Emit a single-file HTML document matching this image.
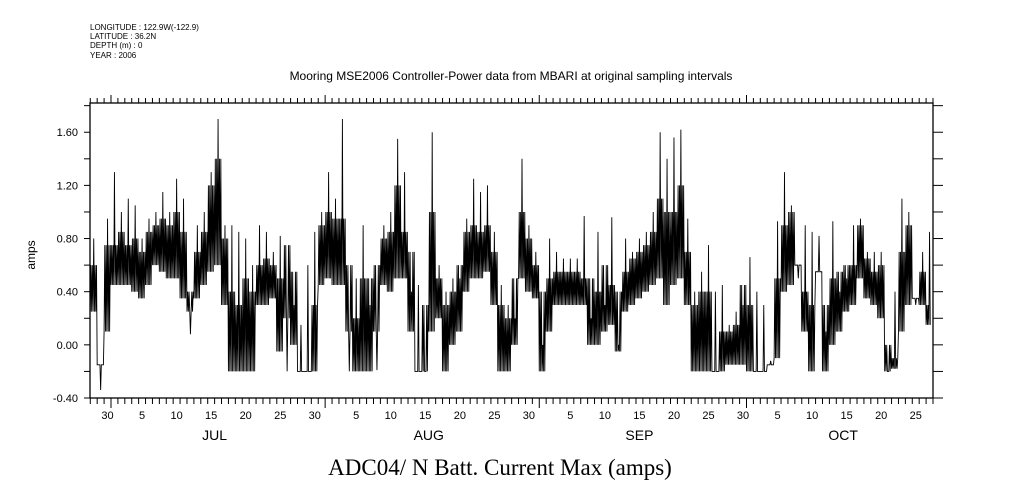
<!DOCTYPE html>
<html><head><meta charset="utf-8"><style>
html,body{margin:0;padding:0;background:#fff;}
svg{display:block;font-family:"Liberation Sans",sans-serif;}
</style></head><body>
<svg id="chart" width="1009" height="504" viewBox="0 0 1009 504" xmlns="http://www.w3.org/2000/svg">
<g font-size="8" fill="#000">
<text x="90" y="30">LONGITUDE : 122.9W(-122.9)</text>
<text x="90" y="39">LATITUDE : 36.2N</text>
<text x="90" y="48">DEPTH (m) : 0</text>
<text x="90" y="58">YEAR : 2006</text>
</g>
<text x="511" y="80" text-anchor="middle" font-size="12">Mooring MSE2006 Controller-Power data from MBARI at original sampling intervals</text>
<text transform="translate(35,255) rotate(-90)" text-anchor="middle" font-size="12">amps</text>
<text x="500" y="475" text-anchor="middle" font-size="23" font-family="Liberation Serif, serif">ADC04/ N Batt. Current Max (amps)</text>
<g id="axes"></g>
<g id="series"></g>
</svg>
<script>
const dayStart = -3;
const dayLow = [0.25,-0.15,0.1,0.45,0.45,0.45,0.4,0.35,0.45,0.6,
0.55,0.5,0.5,0.35,0.25,0.35,0.45,0.55,0.6,0.3,
-0.2,-0.2,-0.2,-0.2,0.3,0.3,0.35,-0.05,0.2,0.0,
-0.2,-0.2,-0.2,0.45,0.5,0.45,0.45,0.1,-0.2,-0.2,
-0.2,0.1,0.45,0.4,0.5,0.5,0.1,-0.2,-0.2,0.1,
0.2,-0.2,0.0,0.1,0.4,0.5,0.5,0.55,0.3,-0.2,
-0.2,0.0,0.5,0.4,0.35,-0.2,0.1,0.3,0.3,0.3,
0.3,0.3,0.0,0.0,0.1,0.15,-0.05,0.25,0.3,0.35,
0.4,0.45,0.5,0.3,0.45,0.5,0.3,-0.2,-0.2,-0.2,
-0.2,-0.2,-0.15,-0.15,-0.15,-0.2,-0.2,-0.2,-0.15,-0.1,
0.4,0.45,0.6,0.1,-0.2,0.55,-0.2,0.0,0.1,0.25,
0.3,0.5,0.35,0.3,0.2,-0.2,-0.18,0.1,0.3,0.35,
0.3,0.15];
const dayHigh = [0.6,-0.15,0.75,0.75,0.85,0.75,0.8,0.7,0.85,0.9,
0.95,0.9,1.0,0.85,0.4,0.7,0.85,1.2,1.4,0.8,
0.4,0.3,0.5,0.4,0.6,0.65,0.6,0.5,0.75,0.55,
-0.2,-0.2,0.3,0.9,1.0,0.95,0.95,0.6,0.2,0.5,
0.5,0.6,0.8,0.85,1.2,0.85,0.7,-0.2,0.3,1.0,
0.5,0.3,0.4,0.6,0.85,0.9,0.85,0.9,0.7,0.3,
0.2,0.5,1.0,0.8,0.6,0.4,0.5,0.55,0.55,0.55,
0.55,0.5,0.5,0.4,0.6,0.45,0.4,0.55,0.65,0.7,
0.75,0.85,1.1,1.0,1.0,1.2,0.7,0.3,0.4,0.4,
-0.2,0.1,0.1,0.15,0.45,0.3,-0.2,-0.2,-0.15,0.5,
0.9,1.0,0.6,0.4,0.3,0.55,0.3,0.5,0.55,0.6,
0.6,0.9,0.65,0.55,0.6,0.0,-0.1,0.7,0.9,0.35,
0.55,0.3];
const dayPeak = [0.8,-0.34,0.95,1.3,1.0,1.1,1.05,0.8,0.95,1.0,
1.15,1.0,1.25,1.1,0.08,0.9,1.0,1.3,1.7,0.9,
0.9,0.85,0.8,0.6,0.9,0.85,0.7,0.82,-0.2,0.3,
0.15,0.6,0.85,1.0,1.3,1.1,1.7,-0.2,0.5,0.9,
0.3,-0.19,0.9,1.0,1.55,1.3,0.4,0.45,-0.2,1.6,
0.6,0.4,0.5,0.5,0.95,1.25,1.15,1.2,0.85,0.45,
0.3,0.2,1.4,0.9,0.7,0.0,0.8,0.7,0.65,0.65,
0.65,0.97,0.2,0.85,0.3,0.96,0.0,0.8,0.7,0.8,
0.85,1.0,1.6,1.4,1.56,1.62,0.95,0.4,0.55,0.75,
0.4,0.45,0.15,0.25,0.3,0.66,0.4,0.3,-0.12,0.93,
1.3,1.05,0.5,0.9,0.85,0.82,0.1,0.93,0.4,0.5,
0.9,0.95,0.7,0.7,0.7,-0.2,0.4,1.1,1.0,0.3,
0.7,0.85];
const yTickValues = [-0.4,-0.2,0,0.2,0.4,0.6,0.8,1.0,1.2,1.4,1.6,1.8];
const yTickLabels = ["-0.40","0.00","0.40","0.80","1.20","1.60"];
const dayLabelDays = [-1,4,9,14,19,24,29,35,40,45,50,55,60,66,71,76,81,86,91,96,101,106,111,116];
const dayLabelText = ["30","5","10","15","20","25","30","5","10","15","20","25","30","5","10","15","20","25","30","5","10","15","20","25"];
const monthStarts = [0,31,62,92];
const monthNames = ["JUL","AUG","SEP","OCT"];
const monthLabelDays = [15,46,76.5,106];

const NS="http://www.w3.org/2000/svg";
const L=90,R=933,T=103,B=398;
const D0=-3.04, D1=119.0;
const VMIN=-0.4, VMAX=1.82;
function X(d){return L+(d-D0)/(D1-D0)*(R-L);}
function Y(v){return B-(v-VMIN)/(VMAX-VMIN)*(B-T);}
function mk(tag,attrs,parent){const e=document.createElementNS(NS,tag);for(const k in attrs)e.setAttribute(k,attrs[k]);parent.appendChild(e);return e;}
const ax=document.getElementById('axes');
let e;
e=mk('rect',{x:L,y:T,width:R-L,height:B-T,fill:'none',stroke:'#000','stroke-width':1.3},ax);


yTickValues.forEach(v=>{
  const y=Y(v);
  if(y<T-0.5) return;
  let t=mk('line',{x1:L-6,x2:L,y1:y,y2:y,stroke:'#000'},ax);
  
  
  let t2=mk('line',{x1:R,x2:R+10,y1:y,y2:y,stroke:'#000'},ax);
  
  
});
yTickLabels.forEach(s=>{
  const v=parseFloat(s);
  let t=mk('text',{x:78,y:Y(v)+4,'text-anchor':'end','font-size':11},ax);
  t.textContent=s;
  
  
});
for(let d=Math.ceil(D0);d<=Math.floor(D1);d++){
  const x=X(d);
  const major=monthStarts.includes(d);
  let t=mk('line',{x1:x,x2:x,y1:B,y2:B+(major?10:6),stroke:'#000'},ax);
  
  
  let t2=mk('line',{x1:x,x2:x,y1:T,y2:T-(major?8:5),stroke:'#000'},ax);
  
  
}
dayLabelDays.forEach((d,i)=>{
  let t=mk('text',{x:X(d+0.5),y:419,'text-anchor':'middle','font-size':11},ax);
  t.textContent=dayLabelText[i];
  
  
});
monthLabelDays.forEach((d,i)=>{
  let t=mk('text',{x:X(d),y:440,'text-anchor':'middle','font-size':14},ax);
  t.textContent=monthNames[i];
  
  
});
const pts=[];
for(let i=0;i<dayLow.length;i++){
  const d=dayStart+i;
  for(let k=0;k<10;k++){
    const t=d+k/10;
    if(t<D0||t>118.6) continue;
    const v = k===5 ? dayPeak[i] : (k%2 ? dayHigh[i] : dayLow[i]);
    pts.push(X(t).toFixed(2)+','+Y(v).toFixed(2));
  }
}
const sg=document.getElementById('series');
e=mk('polyline',{points:pts.join(' '),fill:'none',stroke:'#000','stroke-width':0.9,'stroke-linejoin':'miter'},sg);


</script>
</body></html>
